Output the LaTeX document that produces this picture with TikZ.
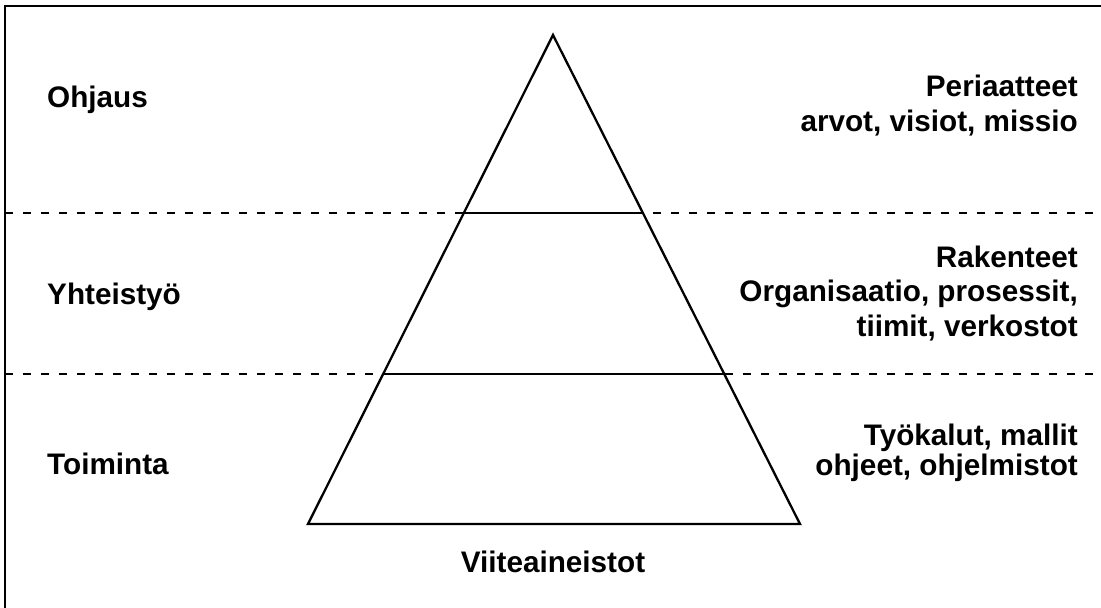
\documentclass[tikz,border=0pt]{standalone}
\usepackage{fontspec}
\setmainfont{Liberation Sans}
\usetikzlibrary{calc}
\begin{document}
\begin{tikzpicture}[x=1pt,y=-1pt,
  line/.style={line width=2.3pt,black},
  level/.style={line width=2.3pt,dash pattern=on 8pt off 10pt},
  lbl/.style={inner sep=0pt,font=\bfseries\fontsize{29.7}{34.5}\selectfont},
  rlbl/.style={lbl,align=right,anchor=base east}]
  \useasboundingbox (0,0) rectangle (1101,608);
  % frame
  \draw[line] (5,610) -- (5,6) -- (1103,6);
  % pyramid corners
  \coordinate (apex) at (553,35);
  \coordinate (bl) at (308,524);
  \coordinate (br) at (800,524);
  \coordinate (l1) at ($(apex)!0.364!(bl)$);
  \coordinate (r1) at ($(apex)!0.364!(br)$);
  \coordinate (l2) at ($(apex)!0.6933!(bl)$);
  \coordinate (r2) at ($(apex)!0.6933!(br)$);
  % level separators
  \draw[level] (5,213) -- (1101,213);
  \draw[level] (5,374) -- (1101,374);
  % pyramid
  \draw[line,line join=miter,fill=none] (apex) -- (br) -- (bl) -- cycle;
  \draw[line] (l1) -- (r1);
  \draw[line] (l2) -- (r2);
  % left labels
  \node[lbl,anchor=base west] (ohjaus) at (47,107) {Ohjaus};
  \node[lbl,anchor=base west] (yhteistyo) at (47,304) {Yhteistyö};
  \node[lbl,anchor=base west] (toiminta) at (47,474) {Toiminta};
  % right labels (anchored at the baseline of the last line)
  \node[rlbl,font=\bfseries\fontsize{29.7}{35}\selectfont] (periaatteet) at (1078,131) {Periaatteet\\arvot, visiot, missio};
  \node[rlbl] (rakenteet) at (1078,336) {Rakenteet\\Organisaatio, prosessit,\\tiimit, verkostot};
  \node[rlbl,font=\bfseries\fontsize{29.7}{30}\selectfont] (tyokalut) at (1078,475) {Työkalut, mallit\\ohjeet, ohjelmistot};
  % base label
  \node[lbl,anchor=base] (viite) at (553,572) {Viiteaineistot};
\end{tikzpicture}
\end{document}
